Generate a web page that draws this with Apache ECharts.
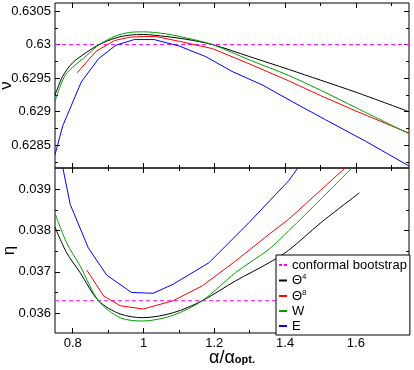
<!DOCTYPE html>
<html>
<head>
<meta charset="utf-8">
<script src="https://cdn.jsdelivr.net/npm/echarts@6/dist/echarts.min.js"></script>
<style>
  html, body { margin: 0; padding: 0; background: #fff; }
  #chart { width: 414px; height: 370px; }
</style>
</head>
<body>
<div id="chart"></div>
<script>
// 数据
const FONT = 'Liberation Sans, Arial, sans-serif';

const xMin = 0.75, xMax = 1.75;
const xMajor = [0.8, 1.0, 1.2, 1.4, 1.6];
const xMinor = [0.8, 0.9, 1.0, 1.1, 1.2, 1.3, 1.4, 1.5, 1.6, 1.7];

const nuMin = 0.62816, nuMax = 0.63062;
const nuMajor = [0.6285, 0.629, 0.6295, 0.63, 0.6305];
const nuMinor = [0.62825, 0.6285, 0.62875, 0.629, 0.62925, 0.6295, 0.62975, 0.63, 0.63025, 0.6305];

const etaMin = 0.03552, etaMax = 0.03951;
const etaMajor = [0.036, 0.037, 0.038, 0.039];
const etaMinor = [0.036, 0.0365, 0.037, 0.0375, 0.038, 0.0385, 0.039];

const nuBootstrap = 0.63;
const etaBootstrap = 0.0363;

// ν 面板
const alphaNuT4 = [0.75, 0.772, 0.80, 0.838, 0.875, 0.922, 0.96, 1.0, 1.063, 1.12, 1.195, 1.3, 1.41, 1.5, 1.6, 1.75];
const nuT4      = [0.62925, 0.62953, 0.62973, 0.62988, 0.63000, 0.63010, 0.63014, 0.63015, 0.63012, 0.63008, 0.63000, 0.62982, 0.62963, 0.62947, 0.62929, 0.62900];
const alphaNuT8 = [0.8125, 0.866, 0.918, 0.96, 1.0, 1.035, 1.1, 1.195, 1.3, 1.41, 1.5, 1.6, 1.75];
const nuT8      = [0.62958, 0.62990, 0.63006, 0.63011, 0.63012, 0.63012, 0.63005, 0.62994, 0.62971, 0.62946, 0.62924, 0.62901, 0.62868];
const alphaNuW  = [0.75, 0.78, 0.838, 0.875, 0.922, 0.96, 1.0, 1.063, 1.12, 1.195, 1.3, 1.41, 1.5, 1.6, 1.75];
const nuW       = [0.62915, 0.62955, 0.62983, 0.63000, 0.63013, 0.63018, 0.63019, 0.63016, 0.63010, 0.63000, 0.62977, 0.62954, 0.62932, 0.62906, 0.62867];
const alphaNuE  = [0.75, 0.772, 0.824, 0.873, 0.922, 0.974, 1.03, 1.1, 1.176, 1.25, 1.335, 1.42, 1.514, 1.627, 1.75];
const nuE       = [0.62836, 0.62879, 0.62944, 0.62979, 0.62999, 0.630075, 0.630075, 0.62998, 0.62982, 0.62960, 0.62940, 0.62915, 0.62888, 0.62856, 0.62819];

// η 面板
const alphaEtaT4 = [0.75, 0.783, 0.821, 0.873, 0.934, 0.999, 1.084, 1.166, 1.26, 1.355, 1.41, 1.5, 1.61];
const etaT4      = [0.03808, 0.03746, 0.03698, 0.03630, 0.03598, 0.03589, 0.03601, 0.03630, 0.03678, 0.03722, 0.03752, 0.03818, 0.03891];
const alphaEtaT8 = [0.84, 0.887, 0.934, 0.999, 1.084, 1.166, 1.26, 1.355, 1.41, 1.5, 1.6];
const etaT8      = [0.03704, 0.03642, 0.03618, 0.03610, 0.03630, 0.03666, 0.03726, 0.03791, 0.03827, 0.03897, 0.03975];
const alphaEtaW  = [0.75, 0.783, 0.821, 0.873, 0.934, 0.999, 1.084, 1.166, 1.26, 1.355, 1.41, 1.5, 1.6];
const etaW       = [0.03841, 0.03770, 0.03714, 0.03630, 0.03589, 0.03581, 0.03595, 0.03630, 0.03698, 0.03755, 0.03799, 0.03875, 0.03961];
const alphaEtaE  = [0.76, 0.772, 0.793, 0.844, 0.896, 0.966, 1.027, 1.084, 1.185, 1.298, 1.41, 1.46];
const etaE       = [0.04000, 0.03952, 0.03863, 0.03758, 0.03692, 0.03650, 0.03648, 0.03670, 0.03722, 0.03819, 0.03920, 0.03980];

const zip = (xs, ys) => xs.map((x, i) => [x, ys[i]]);

// 刻度轴（Grace 风格，刻度朝内，四边都有）
function tickAxis(gridIndex, position, min, max, values, len, showLabel, extra) {
    return Object.assign({
        type: 'value', gridIndex, position, min, max,
        axisLine: { show: false },
        splitLine: { show: false },
        axisTick: { show: true, inside: true, length: len, customValues: values, lineStyle: { color: '#000', width: 1 } },
        axisLabel: {
            show: showLabel, customValues: values, color: '#000',
            fontFamily: FONT, fontSize: 13, margin: 4,
            formatter: v => String(v)
        }
    }, extra || {});
}

const xAxes = [
    tickAxis(0, 'bottom', xMin, xMax, xMajor, 5, false),
    tickAxis(0, 'bottom', xMin, xMax, xMinor, 3, false),
    tickAxis(0, 'top', xMin, xMax, xMajor, 5, false),
    tickAxis(0, 'top', xMin, xMax, xMinor, 3, false),
    tickAxis(1, 'bottom', xMin, xMax, xMajor, 5, true, {
        name: '{b|α/α}{sub|opt.}', nameLocation: 'middle', nameGap: 16, nameMoveOverlap: false,
        nameTextStyle: {
            color: '#000', fontFamily: FONT, verticalAlign: 'top',
            rich: {
                b: { fontSize: 18, fontFamily: FONT, color: '#000', padding: [0, 0, 4, 0] },
                sub: { fontSize: 11, fontWeight: 'bold', fontFamily: FONT, color: '#000' }
            }
        }
    }),
    tickAxis(1, 'bottom', xMin, xMax, xMinor, 3, false),
    tickAxis(1, 'top', xMin, xMax, xMajor, 5, false),
    tickAxis(1, 'top', xMin, xMax, xMinor, 3, false)
];

const yName = (text, gap) => ({
    name: text, nameLocation: 'middle', nameRotate: 90, nameGap: gap, nameMoveOverlap: false,
    nameTextStyle: { color: '#000', fontFamily: FONT, fontSize: 17 }
});

const yAxes = [
    tickAxis(0, 'left', nuMin, nuMax, nuMajor, 5, true, yName('ν', 40)),
    tickAxis(0, 'left', nuMin, nuMax, nuMinor, 3, false),
    tickAxis(0, 'right', nuMin, nuMax, nuMajor, 5, false),
    tickAxis(0, 'right', nuMin, nuMax, nuMinor, 3, false),
    tickAxis(1, 'left', etaMin, etaMax, etaMajor, 5, true, yName('η', 37)),
    tickAxis(1, 'left', etaMin, etaMax, etaMinor, 3, false),
    tickAxis(1, 'right', etaMin, etaMax, etaMajor, 5, false),
    tickAxis(1, 'right', etaMin, etaMax, etaMinor, 3, false)
];

const COLORS = { cb: '#ff00ff', T4: '#000000', T8: '#ff0000', W: '#00a000', E: '#0000ff' };

function lineSeries(name, color, data, panel, smooth) {
    return {
        name, type: 'line', data,
        xAxisIndex: panel * 4, yAxisIndex: panel * 4,
        showSymbol: false, symbol: 'none', smooth: smooth ? 0.3 : false,
        clip: true, color,
        itemStyle: { color },
        lineStyle: { color, width: 1 },
        animation: false
    };
}

function bootstrapSeries(value, panel) {
    return {
        name: 'conformal bootstrap', type: 'line',
        data: [[xMin, value], [xMax, value]],
        xAxisIndex: panel * 4, yAxisIndex: panel * 4,
        showSymbol: false, symbol: 'none', color: COLORS.cb,
        itemStyle: { color: COLORS.cb },
        lineStyle: { color: COLORS.cb, width: 1, type: [4, 3] },
        animation: false
    };
}

const series = [
    bootstrapSeries(nuBootstrap, 0),
    lineSeries('T4', COLORS.T4, zip(alphaNuT4, nuT4), 0, true),
    lineSeries('T8', COLORS.T8, zip(alphaNuT8, nuT8), 0, false),
    lineSeries('W', COLORS.W, zip(alphaNuW, nuW), 0, true),
    lineSeries('E', COLORS.E, zip(alphaNuE, nuE), 0, false),
    bootstrapSeries(etaBootstrap, 1),
    lineSeries('T4', COLORS.T4, zip(alphaEtaT4, etaT4), 1, true),
    lineSeries('T8', COLORS.T8, zip(alphaEtaT8, etaT8), 1, false),
    lineSeries('W', COLORS.W, zip(alphaEtaW, etaW), 1, true),
    lineSeries('E', COLORS.E, zip(alphaEtaE, etaE), 1, false)
];

const legendLabels = {
    'conformal bootstrap': 'conformal bootstrap',
    T4: 'Θ{sup|4}',
    T8: 'Θ{sup|8}',
    W: 'W',
    E: 'E'
};

const gridBase = {
    left: 55, width: 354, height: 165, show: true,
    borderColor: '#000', borderWidth: 1, backgroundColor: 'transparent',
    containLabel: false, outerBoundsMode: 'none'
};

const chart = echarts.init(document.getElementById('chart'));
chart.setOption({
    animation: false,
    backgroundColor: '#fff',
    grid: [
        Object.assign({ top: 3 }, gridBase),
        Object.assign({ top: 168 }, gridBase)
    ],
    xAxis: xAxes,
    yAxis: yAxes,
    legend: {
        left: 276, top: 255, orient: 'vertical',
        itemWidth: 8, itemHeight: 2, itemGap: 1,
        padding: [3, 3, 2, 3],
        backgroundColor: '#fff', borderColor: '#000', borderWidth: 1, borderRadius: 0,
        icon: 'rect',
        textStyle: {
            color: '#000', fontFamily: FONT, fontSize: 13, lineHeight: 14,
            rich: { sup: { fontSize: 8, fontFamily: FONT, color: '#000', padding: [0, 0, 7, 0] } }
        },
        formatter: name => legendLabels[name],
        data: [
            { name: 'conformal bootstrap', icon: 'path://M0 0H3V2H0Z M5 0H8V2H5Z' },
            'T4', 'T8', 'W', 'E'
        ]
    },
    series
});
</script>
</body>
</html>
